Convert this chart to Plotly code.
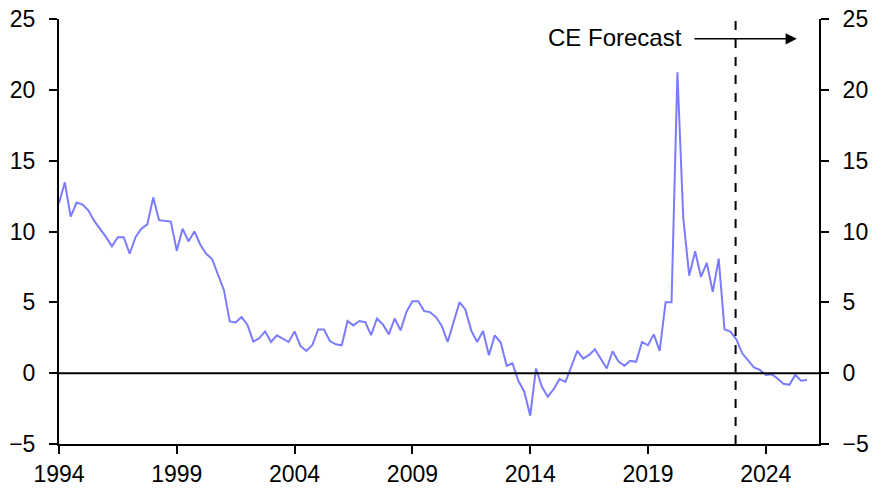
import pandas as pd
import plotly.graph_objects as go

# Quarterly series, 1994 Q1 to 2025 Q4
start_quarter = "1994-01-01"
values = [
    12.0, 13.47, 11.05, 12.04, 11.9, 11.5, 10.75, 10.2, 9.6, 8.95,
    9.6, 9.6, 8.43, 9.6, 10.2, 10.5, 12.4, 10.8, 10.73, 10.7,
    8.64, 10.2, 9.3, 10.0, 9.07, 8.43, 8.06, 6.96, 5.86, 3.65,
    3.58, 3.96, 3.4, 2.23, 2.46, 2.95, 2.2, 2.67, 2.46, 2.2,
    2.95, 1.92, 1.57, 1.97, 3.09, 3.09, 2.27, 2.04, 1.97, 3.68,
    3.37, 3.68, 3.6, 2.69, 3.86, 3.44, 2.74, 3.86, 3.02, 4.33,
    5.08, 5.08, 4.38, 4.31, 3.96, 3.33, 2.2, 3.6, 5.01, 4.5,
    3.02, 2.2, 2.97, 1.26, 2.67, 2.16, 0.52, 0.7, -0.54, -1.31,
    -3.0, 0.33, -0.96, -1.66, -1.12, -0.42, -0.61, 0.47, 1.57, 1.03,
    1.29, 1.69, 1.03, 0.33, 1.55, 0.82, 0.52, 0.87, 0.8, 2.2,
    1.97, 2.74, 1.57, 5.01, 5.01, 21.24, 10.95, 6.89, 8.6, 6.8,
    7.78, 5.74, 8.08, 3.09, 2.93, 2.39, 1.4, 0.87, 0.4, 0.23,
    -0.12, -0.07, -0.37, -0.75, -0.82, -0.12, -0.54, -0.49,
]
dates = pd.date_range(start_quarter, periods=len(values), freq="QS")

y_ticks = [-5, 0, 5, 10, 15, 20, 25]
x_tick_years = [1994, 1999, 2004, 2009, 2014, 2019, 2024]
x_tick_labels = [str(y) for y in x_tick_years]
forecast_start = "2022-09-20"
forecast_label = "CE Forecast"

LINE = "#7B7BFF"
FONT = dict(family="Liberation Sans, Arial, sans-serif", size=23, color="black")
ANN_FONT = dict(family="Liberation Sans, Arial, sans-serif", size=24, color="black")

fig = go.Figure()
fig.add_trace(go.Scatter(x=dates, y=values, mode="lines",
                         line=dict(color=LINE, width=2), showlegend=False,
                         hoverinfo="x+y"))
# invisible twin trace so the right-hand axis is drawn
fig.add_trace(go.Scatter(x=dates, y=values, mode="lines", yaxis="y2",
                         line=dict(color=LINE, width=2), opacity=0,
                         showlegend=False, hoverinfo="skip"))

axis_common = dict(showgrid=False, zeroline=False, showline=True,
                   linecolor="black", linewidth=2, ticks="outside",
                   ticklen=8, tickwidth=2, tickcolor="black",
                   tickfont=FONT, automargin=False)

fig.update_layout(
    width=885, height=498, autosize=False,
    margin=dict(l=59, r=66, t=19, b=54, pad=0),
    plot_bgcolor="white", paper_bgcolor="white",
    font=FONT, showlegend=False,
    xaxis=dict(**axis_common, type="date",
               range=["1994-01-01", "2026-04-05"],
               tickvals=[f"{y}-01-01" for y in x_tick_years],
               ticktext=x_tick_labels, ticklabelstandoff=0),
    yaxis=dict(**axis_common, range=[-5, 25], tickvals=y_ticks,
               ticklabelstandoff=9),
    yaxis2=dict(**axis_common, range=[-5, 25], tickvals=y_ticks,
                overlaying="y", side="right", ticklabelstandoff=9),
    shapes=[
        dict(type="line", xref="paper", x0=0, x1=1, yref="y", y0=0, y1=0,
             line=dict(color="black", width=2)),
        dict(type="line", xref="x", x0=forecast_start, x1=forecast_start,
             yref="paper", y0=0, y1=1,
             line=dict(color="black", width=2, dash="dash")),
    ],
    annotations=[
        dict(x="2017-08-08", y=23.7, xref="x", yref="y", text=forecast_label,
             showarrow=False, font=ANN_FONT, xanchor="center", yanchor="middle"),
        dict(x="2025-04-27", y=23.6, xref="x", yref="y",
             ax="2020-11-28", ay=23.6, axref="x", ayref="y",
             text="", showarrow=True, arrowhead=2, arrowsize=1.5,
             arrowwidth=1.5, arrowcolor="black"),
    ],
)

fig.write_html("out.html",
               config={"displayModeBar": False},
               post_script="document.body.style.margin='0';"
                           "document.body.style.overflow='hidden';")
